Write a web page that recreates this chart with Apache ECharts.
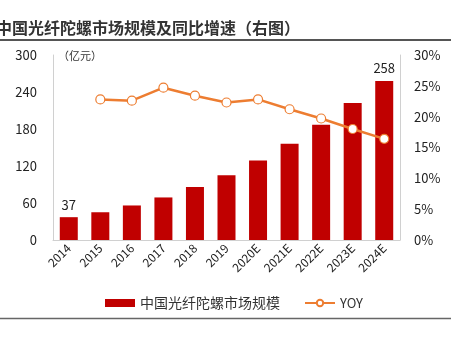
<!DOCTYPE html>
<html><head><meta charset="utf-8">
<script src="https://cdn.jsdelivr.net/npm/echarts@6/dist/echarts.min.js"></script>
<style>html,body{margin:0;padding:0;background:#fff}#c{width:451px;height:338px}</style>
</head><body><div id="c"></div>
<script>
var categories = ['2014','2015','2016','2017','2018','2019','2020E','2021E','2022E','2023E','2024E'];
var marketSize = [37, 45, 56, 69, 86, 105, 129, 156, 187, 222, 258];
var yoy = [null, 22.8, 22.6, 24.7, 23.4, 22.3, 22.8, 21.2, 19.7, 18.0, 16.4];
var leftTicks = [0, 60, 120, 180, 240, 300];
var rightTicks = [0, 5, 10, 15, 20, 25, 30];
var titleText = '中国光纤陀螺市场规模及同比增速（右图）';
var unitText = '（亿元）';
var barName = '中国光纤陀螺市场规模';
var lineName = 'YOY';

var font = '"Noto Sans CJK SC", "Liberation Sans", sans-serif';
var chart = echarts.init(document.getElementById('c'));
chart.setOption({
  animation: false,
  textStyle: {fontFamily: font},
  grid: {left: 53, right: 51, top: 55, bottom: 98},
  graphic: [
    {type: 'text', left: -4, top: 20, style: {text: titleText, font: 'bold 16px ' + font, fill: '#333'}},
    {type: 'line', shape: {x1: 0, y1: 40, x2: 451, y2: 40}, style: {stroke: '#555', lineWidth: 2}},
    {type: 'line', shape: {x1: 0, y1: 318.5, x2: 451, y2: 318.5}, style: {stroke: '#666', lineWidth: 1.5}},
    {type: 'text', left: 58, top: 50, style: {text: unitText, font: '11px ' + font, fill: '#333'}}
  ],
  legend: {
    bottom: 23, left: 100, itemGap: 24, itemTextGap: 7,
    textStyle: {fontSize: 14, color: '#333', fontFamily: font},
    data: [
      {name: barName, icon: 'rect'},
      {name: lineName, textStyle: {fontSize: 13}}
    ],
    itemWidth: 30, itemHeight: 8
  },
  xAxis: {
    type: 'category', data: categories,
    axisLine: {lineStyle: {color: '#d0d0d0'}},
    axisTick: {show: false},
    axisLabel: {rotate: 45, fontSize: 12, color: '#222', margin: 6, interval: 0}
  },
  yAxis: [
    {type: 'value', min: 0, max: 300, interval: 60,
     axisLine: {show: true, lineStyle: {color: '#d0d0d0'}},
     axisTick: {show: false}, splitLine: {show: false},
     axisLabel: {fontSize: 13, color: '#222', margin: 16}},
    {type: 'value', min: 0, max: 30, interval: 5, position: 'right',
     axisLine: {show: true, lineStyle: {color: '#d0d0d0'}},
     axisTick: {show: false}, splitLine: {show: false},
     axisLabel: {fontSize: 13, color: '#222', margin: 14, formatter: '{value}%'}}
  ],
  series: [
    {name: barName, type: 'bar', data: marketSize.map(function(v, i){
        return {value: v, label: {show: i === 0 || i === marketSize.length - 1, position: 'top', fontSize: 13, color: '#222', distance: 6}};
      }),
     barWidth: 18, itemStyle: {color: '#C00000'}},
    {name: lineName, type: 'line', yAxisIndex: 1, data: yoy,
     symbol: 'circle', symbolSize: 9, showSymbol: true,
     lineStyle: {color: '#ED7D31', width: 2.5},
     itemStyle: {color: '#fff', borderColor: '#ED7D31', borderWidth: 1.2}}
  ]
});
</script></body></html>
